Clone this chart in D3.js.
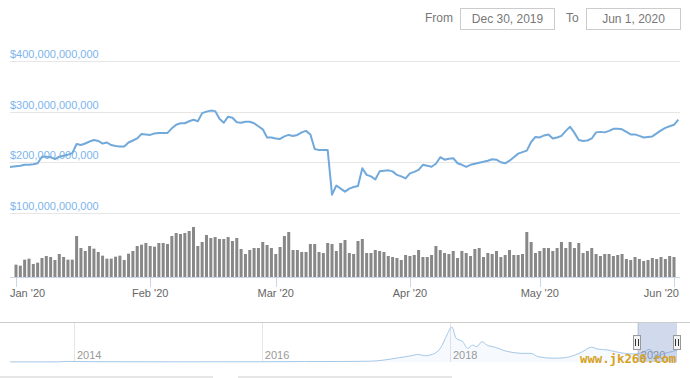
<!DOCTYPE html>
<html>
<head>
<meta charset="utf-8">
<script src="https://cdn.jsdelivr.net/npm/d3@7"></script>
<style>
  body { margin: 0; background: #fff; font-family: "Liberation Sans", Arial, sans-serif; }
</style>
</head>
<body>
<svg id="chart" width="690" height="378"></svg>
<script>
// total market cap, $ billions, one value per day from Dec 30, 2019
const capStart = new Date(2019, 11, 30);
const capValues = [
  190, 191, 192, 193, 195, 195, 196, 198, 211, 211, 210, 206, 211, 213, 215, 218,
  236, 234, 237, 241, 244, 242, 237, 239, 234, 232, 231, 231, 239, 243, 247, 256,
  255, 254, 257, 258, 258, 258, 267, 274, 277, 277, 281, 284, 281, 297, 300, 302,
  301, 286, 278, 290, 288, 279, 278, 280, 280, 277, 271, 265, 249, 249, 247, 246,
  251, 254, 252, 254, 259, 262, 255, 226, 224, 224, 224, 136, 154, 148, 142, 148,
  151, 153, 188, 175, 172, 166, 182, 183, 184, 182, 175, 172, 168, 178, 181, 185,
  195, 193, 191, 197, 210, 205, 207, 208, 198, 195, 191, 195, 197, 199, 201, 203,
  206, 205, 200, 198, 203, 210, 217, 220, 223, 240, 250, 249, 253, 255, 247, 249,
  252, 262, 270, 258, 244, 242, 243, 247, 259, 260, 259, 262, 266, 266, 265, 260,
  255, 255, 252, 249, 250, 251, 257, 263, 268, 271, 274, 284
];

// 24h volume, $ billions, one bar per day from Jan 1, 2020
const volStart = new Date(2020, 0, 1);
const volValues = [
  37, 34, 52, 55, 39, 43, 57, 63, 60, 51, 69, 60, 52, 52, 123, 87, 78, 93, 85, 75,
  64, 55, 55, 61, 64, 51, 70, 78, 93, 97, 102, 93, 91, 102, 102, 99, 123,
  132, 129, 132, 138, 150, 93, 105, 126, 117, 120, 114, 114, 120, 108, 117, 84, 69,
  81, 87, 87, 105, 96, 87, 69, 90, 123, 135, 81, 81, 75, 75, 99, 99, 75, 72, 102,
  99, 78, 102,
  111, 72, 69, 108, 114, 72, 72, 81, 78, 75, 63, 60, 57, 51, 66, 63, 66, 81, 60, 60,
  66, 93, 81, 72, 69, 78, 57, 78, 72, 63, 84, 87, 60, 72, 69, 78, 60, 66,
  81, 66, 66, 69, 135, 105, 72, 78, 87, 87, 78, 87, 105, 87, 105, 87, 102, 72, 78,
  87, 69, 63, 69, 69, 63, 66, 69, 54, 51, 60, 54, 48, 51, 57, 54, 60, 54, 63, 60
];

// navigator: whole history, $ billions
const navDates = [
  "2013-04-28", "2013-11-01", "2013-12-05", "2014-03-01", "2015-01-15", "2016-01-01",
  "2016-06-15", "2016-11-15", "2017-03-01", "2017-04-20", "2017-06-15", "2017-08-05",
  "2017-08-28", "2017-09-25", "2017-11-03", "2017-11-28", "2017-12-20", "2018-01-08",
  "2018-01-25", "2018-02-20", "2018-03-10", "2018-03-30", "2018-04-15", "2018-05-05",
  "2018-05-25", "2018-06-25", "2018-08-05", "2018-08-30", "2018-10-08", "2018-11-12",
  "2018-12-10", "2019-02-05", "2019-03-20", "2019-05-01", "2019-05-26", "2019-07-05",
  "2019-07-28", "2019-09-05", "2019-10-05", "2019-11-10", "2019-12-20", "2020-01-25",
  "2020-02-14", "2020-03-15", "2020-04-10", "2020-05-15", "2020-06-02"
];
const navValues = [
  1.5, 3, 14, 8, 4, 6, 11, 12, 20, 47, 100, 150, 180, 150, 205, 360, 640, 830,
  560, 480, 325, 400, 363, 480, 400, 350, 260, 230, 205, 205, 125, 90, 100, 165,
  230, 350, 308, 285, 245, 205, 190, 240, 300, 150, 200, 250, 284
];

const capTicks = [100, 200, 300, 400];
const navYears = [2014, 2016, 2018, 2020];
const fromText = "Dec 30, 2019";
const toText = "Jun 1, 2020";

const svg = d3.select('#chart');
const font = '"Liberation Sans", Arial, sans-serif';

const capData = capValues.map((v, i) => ({ date: d3.timeDay.offset(capStart, i), value: v }));
const volData = volValues.map((v, i) => ({ date: d3.timeDay.offset(volStart, i), value: v }));
const navData = navDates.map((d, i) => ({ date: d3.timeParse('%Y-%m-%d')(d), value: navValues[i] }));

// scales
const x = d3.scaleTime()
  .domain([new Date(2020, 0, 1), new Date(2020, 5, 1)])
  .range([16, 674]);
const y = d3.scaleLinear().domain([0, 400]).range([263.5, 61]);
const yVol = d3.scaleLinear().domain([0, 150]).range([277, 227]);

// range selector inputs
const selector = svg.append('g').style('font-family', font).style('font-size', '12px');
selector.append('text').attr('x', 425).attr('y', 22).attr('fill', '#777').text('From');
selector.append('text').attr('x', 566).attr('y', 22).attr('fill', '#777').text('To');
[[460.5, fromText], [586.5, toText]].forEach(([bx, t]) => {
  selector.append('rect')
    .attr('x', bx).attr('y', 8.5).attr('width', 94).attr('height', 21)
    .attr('fill', '#fff').attr('stroke', '#ccc');
  selector.append('text')
    .attr('x', bx + 47).attr('y', 23).attr('text-anchor', 'middle')
    .attr('fill', '#777').text(t);
});

// grid + y labels
const grid = svg.append('g');
grid.selectAll('line')
  .data(capTicks)
  .enter().append('line')
  .attr('x1', 10).attr('x2', 680)
  .attr('y1', d => Math.round(y(d)) + 0.5)
  .attr('y2', d => Math.round(y(d)) + 0.5)
  .attr('stroke', '#e6e6e6');
grid.selectAll('text')
  .data(capTicks)
  .enter().append('text')
  .attr('x', 10).attr('y', d => y(d) - 3)
  .attr('fill', '#7cb5ec')
  .style('font-family', font).style('font-size', '11px')
  .text(d => d3.format('$,')(d * 1e9));

svg.append('clipPath').attr('id', 'plot')
  .append('rect').attr('x', 10).attr('y', 40).attr('width', 672).attr('height', 240);

// volume bars
svg.append('g').attr('clip-path', 'url(#plot)')
  .selectAll('rect')
  .data(volData)
  .enter().append('rect')
  .attr('x', d => x(d.date) - 1.5)
  .attr('y', d => yVol(d.value))
  .attr('width', 3)
  .attr('height', d => yVol(0) - yVol(d.value))
  .attr('fill', '#888');

// market cap line
const line = d3.line().x(d => x(d.date)).y(d => y(d.value));
svg.append('path')
  .datum(capData)
  .attr('clip-path', 'url(#plot)')
  .attr('d', line)
  .attr('fill', 'none')
  .attr('stroke', '#72a9db')
  .attr('stroke-width', 2)
  .attr('stroke-linejoin', 'round');

// x axis
const xa = svg.append('g');
xa.append('line')
  .attr('x1', 10).attr('x2', 680).attr('y1', 277.5).attr('y2', 277.5)
  .attr('stroke', '#ccd6eb');
const months = x.ticks(d3.timeMonth.every(1));
xa.selectAll('line.tick')
  .data(months)
  .enter().append('line')
  .attr('class', 'tick')
  .attr('x1', d => Math.round(x(d)) + 0.5).attr('x2', d => Math.round(x(d)) + 0.5)
  .attr('y1', 277).attr('y2', 287)
  .attr('stroke', '#ccd6eb');
xa.selectAll('text')
  .data(months)
  .enter().append('text')
  .attr('x', (d, i) => i === 0 ? 10 : i === months.length - 1 ? 679 : x(d))
  .attr('y', 297)
  .attr('text-anchor', (d, i) => i === 0 ? 'start' : i === months.length - 1 ? 'end' : 'middle')
  .attr('fill', '#666')
  .style('font-family', font).style('font-size', '11px')
  .text(d3.timeFormat("%b '%y"));

// navigator
const xNav = d3.scaleTime()
  .domain([new Date(2014, 0, 1), new Date(2018, 0, 1)])
  .range([74, 450]);
const yNav = d3.scaleLinear().domain([0, 925]).range([362, 323]);
const nav = svg.append('g');
nav.append('line')
  .attr('x1', 0).attr('x2', 690).attr('y1', 322.5).attr('y2', 322.5)
  .attr('stroke', '#ccc');
nav.selectAll('line.yr')
  .data(navYears)
  .enter().append('line')
  .attr('class', 'yr')
  .attr('x1', d => Math.round(xNav(new Date(d, 0, 1))) + 0.5)
  .attr('x2', d => Math.round(xNav(new Date(d, 0, 1))) + 0.5)
  .attr('y1', 323).attr('y2', 362)
  .attr('stroke', '#e6e6e6');
nav.append('path')
  .datum(navData)
  .attr('d', d3.area().x(d => xNav(d.date)).y0(yNav(0)).y1(d => yNav(d.value)).curve(d3.curveMonotoneX))
  .attr('fill', 'rgba(124,181,236,0.07)');
nav.append('path')
  .datum(navData)
  .attr('d', d3.line().x(d => xNav(d.date)).y(d => yNav(d.value)).curve(d3.curveMonotoneX))
  .attr('fill', 'none')
  .attr('stroke', '#a5c8e6')
  .attr('stroke-width', 1);
nav.selectAll('text')
  .data(navYears)
  .enter().append('text')
  .attr('x', d => xNav(new Date(d, 0, 1)) + 3)
  .attr('y', 359)
  .attr('fill', '#999')
  .style('font-family', font).style('font-size', '11px')
  .text(d => d);

// selected range mask + handles
const m0 = xNav(new Date(2019, 11, 30)), m1 = xNav(new Date(2020, 5, 1));
nav.append('rect')
  .attr('x', m0).attr('y', 323).attr('width', m1 - m0).attr('height', 39)
  .attr('fill', 'rgba(102,133,194,0.3)');
[m0, m1].forEach(hx => {
  const h = nav.append('g').attr('transform', `translate(${Math.round(hx)},335)`);
  h.append('rect').attr('x', -3.5).attr('y', 0.5).attr('width', 7).attr('height', 14)
    .attr('fill', '#f2f2f2').attr('stroke', '#999');
  h.append('path').attr('d', 'M -1.5 4 V 11 M 1.5 4 V 11').attr('stroke', '#333').attr('stroke-width', 1);
});

// scrollbar remains at the bottom edge
[[0, 213], [238, 452]].forEach(([a, b]) => {
  svg.append('rect').attr('x', a).attr('y', 376).attr('width', b - a).attr('height', 2).attr('fill', '#e6e6e6');
});

// watermark
svg.append('text')
  .attr('x', 580).attr('y', 363)
  .attr('fill', '#d6a21e')
  .style('font-family', '"DejaVu Sans Mono", monospace')
  .style('font-weight', 'bold')
  .style('font-size', '12.3px')
  .text('www.jk260.com');
</script>
</body>
</html>
